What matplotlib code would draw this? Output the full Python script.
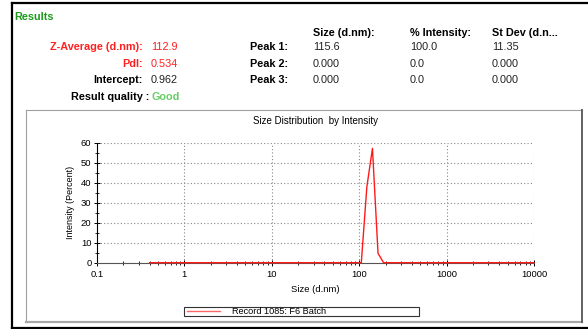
import matplotlib
matplotlib.use("Agg")
import matplotlib.pyplot as plt
from matplotlib.patches import Rectangle
from matplotlib.lines import Line2D
from matplotlib.ticker import FixedLocator, NullFormatter, LogLocator

plt.rcParams['font.family'] = ['Liberation Sans', 'DejaVu Sans']

# ---- data ----
sizes_nm = [0.4, 91.28, 105.7, 122.4, 141.8, 164.2, 190.1, 220.2, 10000]
intensity_pct = [0, 0, 0, 38.1, 57.3, 4.7, 0, 0, 0]
record_label = "Record 1085: F6 Batch"

summary_labels = ["Z-Average (d.nm):", "PdI:", "Intercept:", "Result quality :"]
summary_values = ["112.9", "0.534", "0.962", "Good"]
peak_labels = ["Peak 1:", "Peak 2:", "Peak 3:"]
peak_cols = ["Size (d.nm):", "% Intensity:", "St Dev (d.n..."]
peak_size = ["115.6", "0.000", "0.000"]
peak_int = ["100.0", "0.0", "0.0"]
peak_sd = ["11.35", "0.000", "0.000"]
x_ticks = [0.1, 1, 10, 100, 1000, 10000]
x_ticklabels = ["0.1", "1", "10", "100", "1000", "10000"]
y_ticks = [0, 10, 20, 30, 40, 50, 60]

W, H = 588, 329
fig = plt.figure(figsize=(W / 100, H / 100), dpi=100)

def fx(x):
    return x / W

def fy(y):
    return 1 - y / H

HF = 7.8  # header font size

# outer black frame
fig.add_artist(Line2D([fx(12), fx(12)], [fy(3), fy(328)], color='black', lw=1.6))
fig.add_artist(Line2D([fx(12), fx(600)], [fy(3), fy(3)], color='black', lw=1.6))
fig.add_artist(Line2D([fx(12), fx(600)], [fy(327.5), fy(327.5)], color='black', lw=1.6))

# inner chart panel
fig.add_artist(Line2D([fx(26), fx(582)], [fy(110), fy(110)], color='#a0a0a0', lw=0.8))
fig.add_artist(Line2D([fx(26), fx(26)], [fy(110), fy(322)], color='#a0a0a0', lw=0.8))
fig.add_artist(Line2D([fx(26), fx(582)], [fy(322), fy(322)], color='#a8a8a8', lw=1.6))
fig.add_artist(Line2D([fx(582), fx(582)], [fy(110), fy(322)], color='#606060', lw=1.4))

# header
fig.text(fx(14), fy(17), "Results", color='#1a9a1a', fontsize=HF, fontweight='bold', va='center')
rows_y = [47, 64, 80, 97]
label_colors = ['#ff2020', '#ff2020', 'black', 'black']
value_colors = ['#ff2020', '#ff2020', '#222222', '#66cc66']
for i, (lab, val) in enumerate(zip(summary_labels, summary_values)):
    xr = 143 if i < 3 else 149
    fig.text(fx(xr), fy(rows_y[i]), lab, color=label_colors[i], fontsize=HF,
             fontweight='bold', ha='right', va='center')
    fig.text(fx(xr + 8 if i < 3 else 152), fy(rows_y[i]), val, color=value_colors[i], fontsize=HF,
             fontweight='bold' if i == 3 else 'normal', ha='left', va='center')

col_x = [313, 410, 492]
for cx, c in zip(col_x, peak_cols):
    fig.text(fx(cx), fy(33), c, fontsize=HF, fontweight='bold', va='center')
for i, pl in enumerate(peak_labels):
    y = rows_y[i]
    fig.text(fx(250), fy(y), pl, fontsize=HF, fontweight='bold', va='center')
    for cx, v in zip(col_x, [peak_size[i], peak_int[i], peak_sd[i]]):
        fig.text(fx(cx), fy(y), v, fontsize=HF, color='#222222', va='center')

# chart
ax = fig.add_axes([fx(97), fy(262.7), (534 - 97) / W, (262.7 - 143) / H])
ax.set_xscale('log')
ax.set_xlim(0.1, 10000)
ax.set_ylim(0, 60)
ax.plot(sizes_nm, intensity_pct, color='#ff1a1a', lw=1.0, zorder=5, clip_on=False)

for s in ['top', 'right']:
    ax.spines[s].set_visible(False)
ax.spines['left'].set_color('black')
ax.spines['left'].set_linewidth(0.8)
ax.spines['bottom'].set_color('#555555')
ax.spines['bottom'].set_linewidth(0.8)

ax.set_xticks(x_ticks)
ax.set_xticklabels(x_ticklabels)
ax.xaxis.set_minor_locator(LogLocator(base=10, subs=range(2, 10)))
ax.xaxis.set_minor_formatter(NullFormatter())
ax.set_yticks(y_ticks)
ax.yaxis.set_minor_locator(FixedLocator([5, 15, 25, 35, 45, 55]))
ax.tick_params(axis='both', which='major', direction='inout', length=5, width=0.7,
               labelsize=6.8, pad=1.5, colors='black')
ax.tick_params(axis='both', which='minor', direction='inout', length=3, width=0.6)
ax.tick_params(axis='x', which='major', pad=3)

for yv in y_ticks[1:]:
    ax.axhline(yv, color='#888888', lw=0.8, ls=(0, (1, 2)), zorder=1)
for xv in x_ticks[1:]:
    ax.axvline(xv, color='#888888', lw=0.8, ls=(0, (1, 2)), zorder=1)

ax.set_title("Size Distribution  by Intensity", fontsize=7, pad=14)
ax.set_xlabel("Size (d.nm)", fontsize=6.8, labelpad=4)
ax.set_ylabel("Intensity (Percent)", fontsize=6.5, labelpad=4)

# legend box
fig.add_artist(Rectangle((fx(184), fy(315.5)), (419 - 184) / W, 9 / H, facecolor='white',
                         edgecolor='#333333', lw=0.8))
fig.add_artist(Line2D([fx(187), fx(220)], [fy(311), fy(311)], color='#ff6666', lw=1.0))
fig.text(fx(232), fy(311), record_label, fontsize=6.6, va='center_baseline')

fig.savefig("out.png", dpi=100)
